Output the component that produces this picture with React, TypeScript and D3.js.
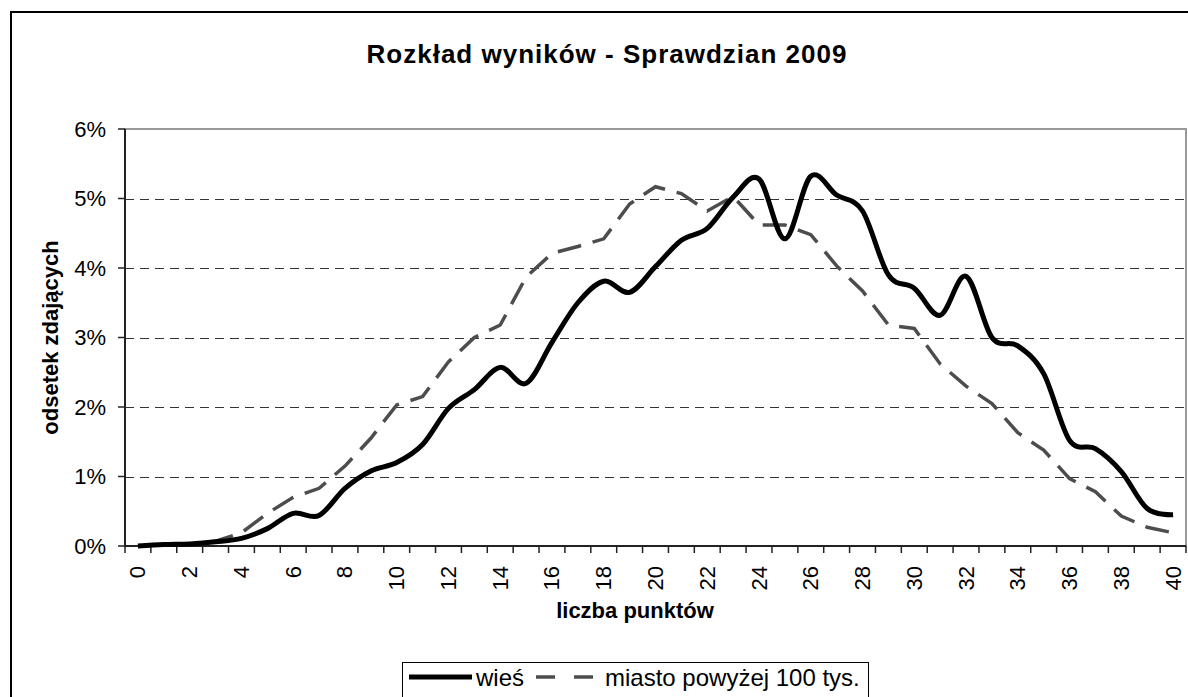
import { useEffect, useRef } from "react";
import * as d3 from "d3";

// liczba punktów 0..40
const points = [
  0, 1, 2, 3, 4, 5, 6, 7, 8, 9, 10, 11, 12, 13, 14, 15, 16, 17, 18, 19, 20,
  21, 22, 23, 24, 25, 26, 27, 28, 29, 30, 31, 32, 33, 34, 35, 36, 37, 38, 39, 40,
];

// odsetek zdających, w %
const wies = [
  0.0, 0.02, 0.03, 0.06, 0.11, 0.25, 0.47, 0.44, 0.83, 1.08, 1.2, 1.46, 1.98,
  2.25, 2.57, 2.34, 2.93, 3.5, 3.81, 3.65, 4.02, 4.4, 4.57, 5.02, 5.28, 4.42,
  5.32, 5.05, 4.82, 3.9, 3.71, 3.32, 3.88, 3.0, 2.88, 2.48, 1.52, 1.4, 1.07,
  0.54, 0.45,
];

const miasto = [
  0.0, 0.02, 0.03, 0.07, 0.19, 0.47, 0.7, 0.83, 1.15, 1.55, 2.03, 2.15, 2.65,
  3.0, 3.18, 3.87, 4.21, 4.31, 4.42, 4.92, 5.17, 5.07, 4.82, 5.03, 4.62, 4.62,
  4.48, 4.03, 3.67, 3.18, 3.13, 2.62, 2.3, 2.05, 1.63, 1.38, 0.97, 0.78, 0.43,
  0.27, 0.19,
];

const yTicks = [0, 1, 2, 3, 4, 5, 6];
const xLabels = [0, 2, 4, 6, 8, 10, 12, 14, 16, 18, 20, 22, 24, 26, 28, 30, 32, 34, 36, 38, 40];

const W = 1188;
const H = 697;
const FONT = "'Liberation Sans', Arial, sans-serif";

export default function App() {
  const svgRef = useRef<SVGSVGElement>(null);

  useEffect(() => {
    if (!svgRef.current) return;
    const svg = d3.select(svgRef.current);
    svg.selectAll("*").remove();

    const plot = { left: 125, right: 1186, top: 129, bottom: 546 };

    const x = d3
      .scaleBand<number>()
      .domain(points)
      .range([plot.left, plot.right]);
    const cx = (d: number) => (x(d) ?? 0) + x.bandwidth() / 2;

    const y = d3.scaleLinear().domain([0, 6]).range([plot.bottom, plot.top]);

    // chart border
    svg
      .append("rect")
      .attr("x", 11)
      .attr("y", 12)
      .attr("width", 1250)
      .attr("height", 760)
      .attr("fill", "#fff")
      .attr("stroke", "#000")
      .attr("stroke-width", 2);

    // title
    svg
      .append("text")
      .attr("x", 607)
      .attr("y", 63)
      .attr("text-anchor", "middle")
      .attr("font-family", FONT)
      .attr("font-size", 26)
      .attr("font-weight", "bold")
      .attr("letter-spacing", 1)
      .text("Rozkład wyników - Sprawdzian 2009");

    // plot area border (top/right, gray)
    svg
      .append("rect")
      .attr("x", plot.left)
      .attr("y", plot.top)
      .attr("width", plot.right - plot.left)
      .attr("height", plot.bottom - plot.top)
      .attr("fill", "none")
      .attr("stroke", "#999")
      .attr("stroke-width", 2);

    // gridlines
    svg
      .append("g")
      .selectAll("line")
      .data(yTicks.filter((t) => t > 0 && t < 6))
      .join("line")
      .attr("x1", plot.left)
      .attr("x2", plot.right)
      .attr("y1", (d) => Math.round(y(d)) + 0.5)
      .attr("y2", (d) => Math.round(y(d)) + 0.5)
      .attr("stroke", "#333")
      .attr("stroke-width", 1)
      .attr("stroke-dasharray", "9,6");

    // y axis
    const gy = svg.append("g").attr("font-family", FONT);
    gy.append("line")
      .attr("x1", plot.left)
      .attr("x2", plot.left)
      .attr("y1", plot.top)
      .attr("y2", plot.bottom)
      .attr("stroke", "#222")
      .attr("stroke-width", 2);
    gy.selectAll("line.tick")
      .data(yTicks)
      .join("line")
      .attr("class", "tick")
      .attr("x1", plot.left - 7)
      .attr("x2", plot.left)
      .attr("y1", (d) => y(d))
      .attr("y2", (d) => y(d))
      .attr("stroke", "#222")
      .attr("stroke-width", 1.5);
    gy.selectAll("text")
      .data(yTicks)
      .join("text")
      .attr("x", 106)
      .attr("y", (d) => y(d))
      .attr("text-anchor", "end")
      .attr("dominant-baseline", "central")
      .attr("font-size", 22)
      .text((d) => `${d}%`);

    // x axis
    const gx = svg.append("g").attr("font-family", FONT);
    gx.append("line")
      .attr("x1", plot.left)
      .attr("x2", plot.right)
      .attr("y1", plot.bottom)
      .attr("y2", plot.bottom)
      .attr("stroke", "#222")
      .attr("stroke-width", 2);
    const tickPos = [...points.map((d) => x(d) ?? 0), plot.right];
    gx.selectAll("line.tick")
      .data(tickPos)
      .join("line")
      .attr("class", "tick")
      .attr("x1", (d) => d)
      .attr("x2", (d) => d)
      .attr("y1", plot.bottom)
      .attr("y2", plot.bottom + 7)
      .attr("stroke", "#222")
      .attr("stroke-width", 1.5);
    gx.selectAll("text")
      .data(xLabels)
      .join("text")
      .attr("transform", (d) => `translate(${cx(d)},566) rotate(-90)`)
      .attr("text-anchor", "end")
      .attr("dominant-baseline", "central")
      .attr("font-size", 22)
      .text((d) => d);

    // axis titles
    svg
      .append("text")
      .attr("x", 635)
      .attr("y", 618)
      .attr("text-anchor", "middle")
      .attr("font-family", FONT)
      .attr("font-size", 22)
      .attr("font-weight", "bold")
      .text("liczba punktów");
    svg
      .append("text")
      .attr("transform", `translate(50,${(plot.top + plot.bottom) / 2}) rotate(-90)`)
      .attr("text-anchor", "middle")
      .attr("dominant-baseline", "central")
      .attr("font-family", FONT)
      .attr("font-size", 22)
      .attr("font-weight", "bold")
      .text("odsetek zdających");

    // series
    const smooth = d3
      .line<number>()
      .x((_, i) => cx(points[i]))
      .y((d) => y(d))
      .curve(d3.curveCatmullRom.alpha(0));
    const straight = d3
      .line<number>()
      .x((_, i) => cx(points[i]))
      .y((d) => y(d));

    svg
      .append("path")
      .attr("d", straight(miasto))
      .attr("fill", "none")
      .attr("stroke", "#4d4d4d")
      .attr("stroke-width", 3.5)
      .attr("stroke-dasharray", "24,12");

    svg
      .append("path")
      .attr("d", smooth(wies))
      .attr("fill", "none")
      .attr("stroke", "#000")
      .attr("stroke-width", 5)
      .attr("stroke-linejoin", "round");

    // legend
    const lg = svg.append("g").attr("font-family", FONT).attr("font-size", 24);
    lg.append("rect")
      .attr("x", 402.5)
      .attr("y", 662.5)
      .attr("width", 466)
      .attr("height", 60)
      .attr("fill", "#fff")
      .attr("stroke", "#000")
      .attr("stroke-width", 1);
    lg.append("line")
      .attr("x1", 409)
      .attr("x2", 472)
      .attr("y1", 677)
      .attr("y2", 677)
      .attr("stroke", "#000")
      .attr("stroke-width", 5);
    lg.append("text").attr("x", 476).attr("y", 686).text("wieś");
    lg.append("line")
      .attr("x1", 536)
      .attr("x2", 593)
      .attr("y1", 677)
      .attr("y2", 677)
      .attr("stroke", "#4d4d4d")
      .attr("stroke-width", 3.5)
      .attr("stroke-dasharray", "19,19");
    lg.append("text").attr("x", 605).attr("y", 686).text("miasto powyżej 100 tys.");
  }, []);

  return (
    <svg
      ref={svgRef}
      width={W}
      height={H}
      style={{ position: "absolute", left: 0, top: 0, background: "#fff" }}
    />
  );
}
